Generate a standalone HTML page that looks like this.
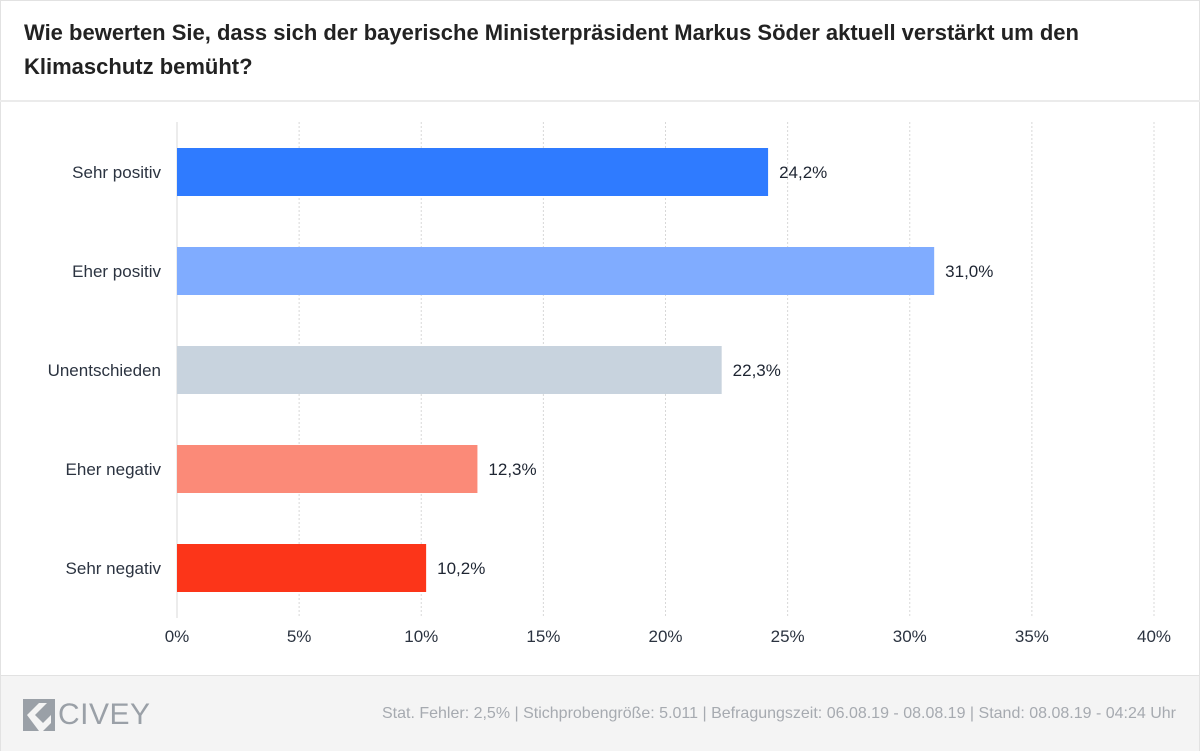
<!DOCTYPE html>
<html><head><meta charset="utf-8"><style>
body{margin:0;width:1200px;height:751px;background:#fff;font-family:"Liberation Sans",sans-serif;overflow:hidden;position:relative}
#frame{position:absolute;left:0;top:0;width:1198px;height:749px;border:1px solid #e2e2e2}
#title{position:absolute;left:24px;top:16px;width:1120px;font-size:22px;line-height:34px;color:#222;font-weight:bold}
#hdr-line{position:absolute;left:0;top:100px;width:1200px;height:2px;background:#ebebeb}
#footer{position:absolute;left:1px;top:675px;width:1198px;height:75px;background:#f4f4f4;border-top:1px solid #e2e2e2}
#note{position:absolute;right:23px;top:29px;font-size:16px;color:#a6aab0}
#logo{position:absolute;left:22px;top:22px;display:flex;align-items:center}
#logo span{font-size:30px;color:#9aa0a7;margin-left:3px;letter-spacing:0.5px}
</style></head><body>
<div id="frame"></div>
<div id="title">Wie bewerten Sie, dass sich der bayerische Ministerpräsident Markus Söder aktuell verstärkt um den Klimaschutz bemüht?</div>
<div id="hdr-line"></div>
<svg id="chart" width="1200" height="751" style="position:absolute;left:0;top:0"></svg>
<div id="footer">
<div id="logo">
<svg width="32" height="32" viewBox="0 0 32 32"><rect width="32" height="32" fill="#9aa0a7"/><path d="M4 16 L16 4 L24 4 L12 16 L20 24 L28 16 L28 24 L20 32 L16 32 Z" fill="#f4f4f4"/></svg>
<span>CIVEY</span></div>
<div id="note">Stat. Fehler: 2,5% | Stichprobengröße: 5.011 | Befragungszeit: 06.08.19 - 08.08.19 | Stand: 08.08.19 - 04:24 Uhr</div>
</div>
<script>
const categories=["Sehr positiv","Eher positiv","Unentschieden","Eher negativ","Sehr negativ"];
const values=[24.2,31.0,22.3,12.3,10.2];
const colors=["#2f7bff","#80acff","#c8d3de","#fb8a78","#fc3519"];
const ticks=[0,5,10,15,20,25,30,35,40];
const NS="http://www.w3.org/2000/svg";
const svg=document.getElementById('chart');
const x=v=>177+v*(1154-177)/40;
const y=i=>172+i*99;
function mk(t,a){const e=document.createElementNS(NS,t);for(const k in a)e.setAttribute(k,a[k]);svg.appendChild(e);return e;}
ticks.forEach(t=>{
 const l=mk('line',{x1:x(t),x2:x(t),y1:122,y2:618,stroke:'#d8d8d8','stroke-dasharray':t===0?'':'2,2','stroke-width':1});
 
 
 const tx=mk('text',{x:x(t),y:642,'text-anchor':'middle','font-size':17,fill:'#2b3340'});
 tx.textContent=t+'%';
 
 
});
categories.forEach((c,i)=>{
 const r=mk('rect',{x:x(0),y:y(i)-24,width:x(values[i])-x(0),height:48,fill:colors[i]});
 
 
 const lb=mk('text',{x:161,y:y(i)+6,'text-anchor':'end','font-size':17,fill:'#2b3340'});
 lb.textContent=c;
 
 
 const vl=mk('text',{x:x(values[i])+11,y:y(i)+6,'font-size':17,fill:'#1e2532'});
 vl.textContent=values[i].toFixed(1).replace('.',',')+'%';
 
 
});
</script>
</body></html>
